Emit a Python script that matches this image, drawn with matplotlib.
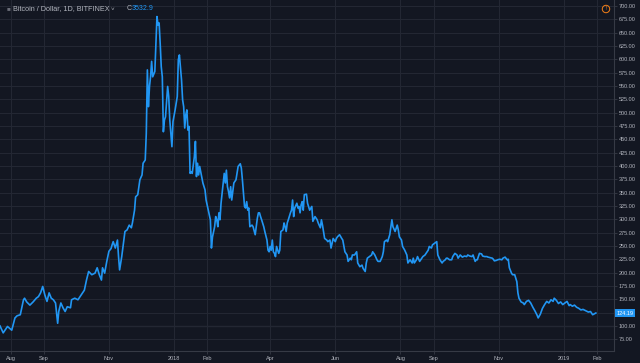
import matplotlib
matplotlib.use("Agg")
import matplotlib.pyplot as plt
import matplotlib.transforms as mtransforms
import pandas as pd

# days since 2017-07-22 and the plotted value (percent scale, 100 = start)
start_date = "2017-07-22"
days = [
    0, 3, 7, 11, 14, 16, 19, 22, 23, 25, 28, 31, 34, 36, 38, 40, 42, 44, 46, 48,
    50, 52, 54, 55, 57, 59, 61, 63, 66, 67, 70, 73, 76, 79, 81, 83, 86, 89, 91, 93,
    95, 96, 98, 100, 102, 104,
    105, 106, 108, 110, 111, 112, 114, 116, 117, 119, 121, 123, 124, 126, 127, 129,
    131, 133, 134, 136, 137, 138, 139, 140, 141, 142, 143, 145, 146, 147, 148, 149,
    150, 151, 152, 153, 154, 155, 157, 158, 159, 161, 162, 164, 166, 167, 168, 170,
    171, 172, 173, 174, 175, 176, 177, 178, 179, 180, 182, 183, 184, 185, 186, 187,
    188, 189, 190, 192, 193, 195, 196,
    197, 198, 199, 201, 202, 203, 204, 205, 206, 207, 208, 210, 211, 212, 213, 214,
    215, 216, 217, 218, 219, 221, 222, 223, 225, 226, 227, 228, 229, 230, 231, 232,
    233, 234, 236, 237, 239, 241, 242, 243, 244, 245, 247, 248, 250, 251, 252, 253,
    254, 255, 256, 257, 258, 259, 261, 262, 263, 265, 266, 267, 268, 269, 270, 272,
    273, 274, 275, 276, 278, 279, 280, 281, 282, 283, 284, 285, 287, 288, 290, 292,
    293, 295, 297, 298, 300, 301, 302,
    304, 306, 307, 309, 310, 312, 314, 315, 316, 318, 320, 321, 323, 325, 326, 328,
    329, 330, 332, 334, 335, 337, 339, 340, 342, 343, 344, 346, 348, 349, 351, 353,
    354, 356, 358, 359, 360, 362, 363, 365, 367, 368, 370, 372, 373, 374, 376, 377,
    379, 381, 382, 384, 386, 387, 388, 390, 391, 393, 395, 396, 398, 400, 401, 402,
    404, 405, 407, 409, 410, 412, 414, 415, 417, 418, 419, 421, 423, 424, 426, 428,
    429, 431, 432, 433, 435, 437, 438, 440, 442, 443, 445, 446, 447, 449, 451, 452,
    454, 456, 457, 459, 461, 462, 463, 465, 466, 468, 470, 471, 473, 475, 476, 477,
    479, 480, 482, 484, 485, 486,
    488, 490, 491, 493, 495, 497, 499, 501, 503, 504, 506, 508, 510, 512, 514, 516,
    518, 519, 521, 523, 525, 527, 529, 531, 533, 534, 536, 538, 540, 542, 544, 546,
    548, 549, 551, 553, 555, 557, 558,
]
values = [
    100, 87, 99, 92, 115, 119, 121, 149, 152, 145, 139, 145, 152, 155, 162, 174, 158, 146, 162, 152,
    149, 143, 105, 127, 143, 134, 127, 136, 134, 149, 152, 149, 158, 167, 186, 202, 196, 199, 209, 196,
    186, 209, 199, 221, 240, 245,
    252, 258, 246, 261, 230, 205, 230, 261, 277, 280, 289, 284, 293, 317, 342, 346,
    374, 383, 405, 411, 461, 580, 511, 549, 567, 596, 567, 577, 630, 680, 664, 668,
    630, 586, 567, 464, 486, 492, 549, 530, 486, 436, 483, 505, 530, 599, 608, 561,
    524, 511, 471, 496, 505, 467, 474, 386, 389, 386, 417, 446, 380, 405, 383, 399,
    389, 380, 368, 355, 336, 317, 308,
    299, 246, 267, 286, 305, 299, 286, 312, 299, 330, 349, 386, 368, 392, 361, 352,
    340, 361, 336, 352, 368, 374, 386, 399, 404, 396, 374, 349, 324, 321, 333, 317,
    321, 286, 289, 286, 271, 302, 312, 312, 305, 299, 286, 277, 261, 242, 239, 249,
    242, 261, 239, 236, 230, 249, 236, 242, 277, 280, 293, 286, 277, 293, 299, 312,
    317, 336, 305, 321, 330, 321, 324, 312, 327, 333, 317, 346, 347, 330, 317, 324,
    296, 305, 299, 293, 284, 299, 289,
    264, 261, 258, 261, 246, 264, 258, 264, 267, 271, 264, 261, 239, 233, 221, 227,
    224, 233, 233, 239, 218, 211, 214, 208, 202, 218, 227, 230, 233, 239, 233, 224,
    221, 221, 230, 239, 258, 261, 258, 271, 299, 286, 277, 289, 280, 267, 261, 249,
    242, 233, 218, 224, 218, 227, 218, 224, 230, 221, 227, 230, 233, 239, 242, 249,
    246, 252, 255, 258, 233, 224, 218, 221, 224, 227, 227, 224, 224, 230, 236, 233,
    227, 233, 231, 229, 231, 230, 233, 231, 230, 233, 221, 224, 224, 236, 235, 231,
    230, 230, 229, 228, 227, 225, 222, 223, 224, 225, 224, 227, 229, 224, 225, 209,
    199, 196, 196, 183, 162, 152,
    145, 143, 140, 146, 148, 143, 135, 128, 120, 115, 122, 133, 140, 146, 143, 149,
    146, 152, 148, 142, 145, 140, 143, 146, 138, 140, 137, 139, 135, 133, 130, 131,
    129, 128, 126, 127, 121, 123, 124.19,
]

tick_dates = ["2017-08-01", "2017-09-01", "2017-11-01", "2018-01-01", "2018-02-01",
              "2018-04-01", "2018-06-01", "2018-08-01", "2018-09-01", "2018-11-01",
              "2019-01-01", "2019-02-01"]
tick_labels = ["Aug", "Sep", "Nov", "2018", "Feb", "Apr", "Jun", "Aug", "Sep",
               "Nov", "2019", "Feb"]
y_ticks = list(range(75, 701, 25))

last_close = "3532.9"
BG = "#131722"
GRID = "#232733"
LINE = "#2196f3"
TEXT = "#b2b5be"


def plot_chart():
    """
    Draws the dark trading-view style line chart and saves it to out.png
    """
    plt.rcParams['font.family'] = ['Liberation Sans', 'DejaVu Sans']
    dates = pd.Timestamp(start_date) + pd.to_timedelta(days, unit="D")

    fig = plt.figure(figsize=(6.4, 3.63), dpi=100, facecolor=BG)
    ax = fig.add_axes([0.0, 12 / 363, 614 / 640, 351 / 363])
    ax.set_facecolor(BG)

    ax.plot(dates, values, color=LINE, lw=1.2, solid_joinstyle="round", zorder=3)

    ax.set_xlim(pd.Timestamp(start_date), pd.Timestamp(start_date) + pd.Timedelta(days=575))
    ax.set_ylim(53, 711)

    ax.set_xticks(pd.to_datetime(tick_dates))
    ax.set_xticklabels(tick_labels)
    ax.yaxis.tick_right()
    ax.set_yticks(y_ticks)
    # the 125 label sits under the last price badge, so it is left blank
    ax.set_yticklabels(["" if v == 125 else f"{v:.2f}" for v in y_ticks])
    ax.tick_params(axis="both", colors="#363a45", labelcolor=TEXT, labelsize=4, length=2, width=0.6, pad=1.5)

    ax.grid(True, color=GRID, lw=0.8, zorder=0)
    ax.axhline(100, color="#4a4e5a", lw=0.8, zorder=1)

    for side in ["top", "left"]:
        ax.spines[side].set_visible(False)
    for side in ["right", "bottom"]:
        ax.spines[side].set_color("#363a45")
        ax.spines[side].set_linewidth(0.8)

    # last price marker on the right scale
    trans = mtransforms.blended_transform_factory(ax.transAxes, ax.transData)
    ax.text(1.004, values[-1], f"{values[-1]:.2f}", transform=trans, fontsize=4, color="white",
            va="center", ha="left", clip_on=False,
            bbox=dict(boxstyle="square,pad=0.35", fc=LINE, ec="none"))

    # header
    fig.text(7 / 640, 1 - 9 / 363, "\u25a0", color="#6a6d78", fontsize=4.5, va="center", ha="left")
    fig.text(13 / 640, 1 - 9 / 363, "Bitcoin / Dollar, 1D, BITFINEX", color=TEXT, fontsize=5.2,
             va="center", ha="left")
    fig.text(111 / 640, 1 - 9 / 363, "\u02c5", color=TEXT, fontsize=4.5, va="center", ha="left")
    fig.text(127 / 640, 1 - 9 / 363, "C", color=TEXT, fontsize=5.0, va="center", ha="left")
    fig.text(132 / 640, 1 - 9 / 363, last_close, color=LINE, fontsize=5.0, va="center", ha="left")

    # alert icon
    fig.text(606 / 640, 1 - 9 / 363, "!", color="#f57f17", fontsize=3.5, va="center", ha="center",
             bbox=dict(boxstyle="circle,pad=0.25", fc="none", ec="#f57f17", lw=0.7))

    fig.savefig("out.png", dpi=100, facecolor=BG)


if __name__ == "__main__":
    plot_chart()
